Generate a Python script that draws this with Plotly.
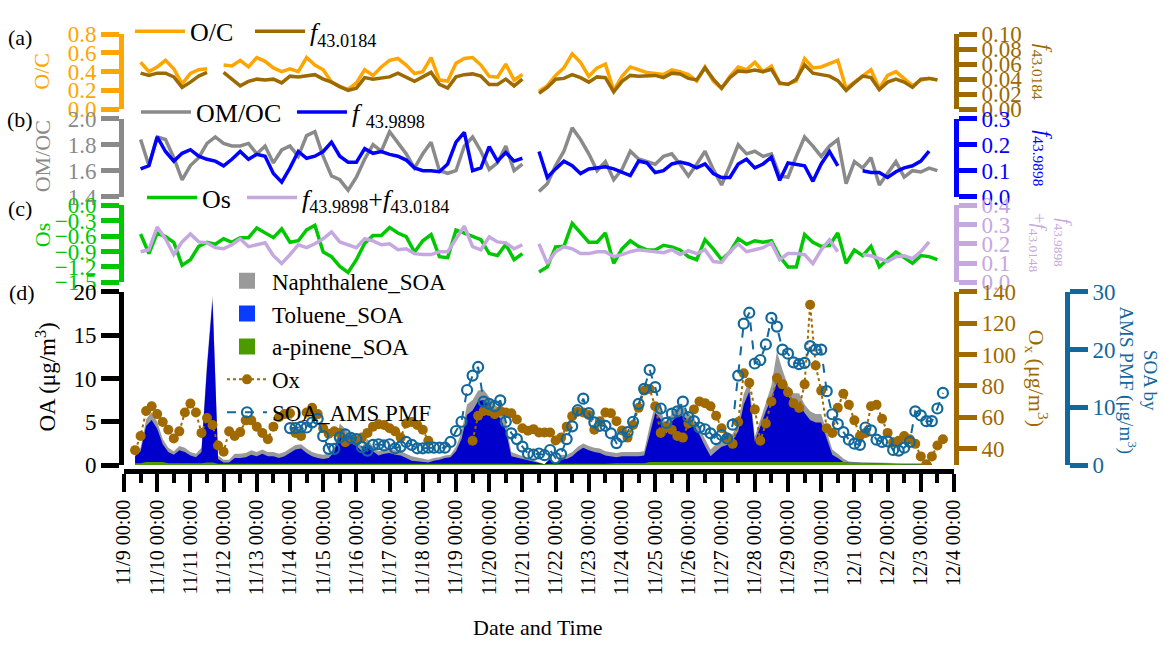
import numpy as np
import pandas as pd
import plotly.graph_objects as go

FONT = "Liberation Serif"

# ---------------- time bases ----------------
t6 = pd.date_range("2018-11-09", periods=101, freq="6h")   # panels a-c
t4 = pd.date_range("2018-11-09", periods=151, freq="4h")   # panel d

# ---------------- panel (a) ----------------
OC = [None, None, 0.50, 0.40, 0.45, 0.52, 0.43, 0.27, 0.38, 0.42,
      0.43, None, 0.47, 0.46, 0.52, 0.45, 0.55, 0.51, 0.44, 0.40,
      0.43, 0.40, 0.55, 0.47, 0.42, 0.29, 0.24, 0.21, 0.28, 0.42,
      0.36, 0.45, 0.52, 0.54, 0.47, 0.38, 0.40, 0.55, 0.31, 0.30,
      0.49, 0.54, 0.55, 0.47, 0.35, 0.34, 0.48, 0.31, 0.37, None,
      0.19, 0.25, 0.36, 0.44, 0.59, 0.50, 0.35, 0.44, 0.48, 0.20,
      0.35, 0.45, 0.42, 0.39, 0.38, 0.37, 0.42, 0.40, 0.37, 0.30,
      0.45, 0.30, 0.22, 0.35, 0.45, 0.42, 0.50, 0.40, 0.46, 0.27,
      0.27, 0.30, 0.54, 0.44, 0.45, 0.49, 0.52, 0.22, 0.29, 0.36,
      0.42, 0.22, 0.36, 0.40, 0.33, 0.25, 0.31, 0.33, 0.31, None,
      None]
F430184 = [None, None, 0.048, 0.045, 0.048, 0.048, 0.043, 0.029, 0.036, 0.044,
           0.049, None, 0.049, 0.040, 0.031, 0.037, 0.040, 0.039, 0.040, 0.035,
           0.044, 0.043, 0.045, 0.046, 0.040, 0.036, 0.030, 0.025, 0.028, 0.042,
           0.040, 0.041, 0.043, 0.048, 0.042, 0.037, 0.043, 0.049, 0.033, 0.028,
           0.043, 0.046, 0.047, 0.044, 0.033, 0.033, 0.040, 0.031, 0.040, None,
           0.021, 0.029, 0.040, 0.041, 0.046, 0.042, 0.036, 0.043, 0.042, 0.023,
           0.037, 0.045, 0.044, 0.044, 0.045, 0.042, 0.048, 0.047, 0.041, 0.039,
           0.055, 0.040, 0.028, 0.042, 0.051, 0.050, 0.052, 0.050, 0.053, 0.035,
           0.033, 0.040, 0.059, 0.048, 0.046, 0.044, 0.038, 0.025, 0.035, 0.044,
           0.042, 0.026, 0.036, 0.040, 0.036, 0.029, 0.040, 0.041, 0.039, None,
           None]

# ---------------- panel (b) ----------------
OMOC = [None, None, 1.84, 1.64, 1.86, 1.84, 1.70, 1.53, 1.64, 1.70,
        1.81, 1.86, 1.81, 1.79, 1.79, 1.81, 1.73, 1.79, 1.66, 1.76,
        1.79, 1.71, 1.87, 1.90, 1.71, 1.56, 1.53, 1.45, 1.55, 1.69,
        1.80, 1.75, 1.90, 1.82, 1.73, 1.62, 1.73, 1.82, 1.60, 1.58,
        1.60, 1.79, 1.86, 1.75, 1.61, 1.66, 1.79, 1.60, 1.65, None,
        1.44, 1.50, 1.64, 1.75, 1.93, 1.84, 1.73, 1.60, 1.67, 1.53,
        1.61, 1.75, 1.69, 1.67, 1.65, 1.71, 1.73, 1.65, 1.56, 1.65,
        1.75, 1.61, 1.49, 1.64, 1.80, 1.73, 1.75, 1.71, 1.73, 1.56,
        1.55, 1.71, 1.86, 1.79, 1.71, 1.79, 1.84, 1.50, 1.67, 1.62,
        1.70, 1.49, 1.58, 1.67, 1.55, 1.60, 1.59, 1.62, 1.60, None,
        None]
F439898 = [None, None, 0.107, 0.119, 0.23, 0.174, 0.137, 0.167, 0.181, 0.156,
           0.144, 0.137, 0.119, 0.144, 0.174, 0.144, 0.163, 0.156, 0.089, 0.056,
           0.111, 0.174, 0.148, 0.156, 0.174, 0.21, 0.156, 0.133, 0.133, 0.185,
           0.167, 0.174, 0.163, 0.156, 0.141, 0.111, 0.10, 0.10, 0.096, 0.126,
           0.21, 0.248, 0.10, 0.111, 0.193, 0.137, 0.17, 0.137, 0.148, None,
           0.174, 0.074, 0.107, 0.137, 0.119, 0.089, 0.107, 0.111, 0.115, 0.107,
           0.093, 0.081, 0.137, 0.13, 0.093, 0.10, 0.126, 0.133, 0.126, 0.111,
           0.126, 0.089, 0.074, 0.074, 0.126, 0.144, 0.111, 0.126, 0.152, 0.063,
           0.13, 0.126, 0.119, 0.059, 0.126, 0.174, 0.119, None, None, 0.10,
           0.093, 0.093, 0.074, 0.096, 0.111, 0.119, 0.137, 0.175, None, None,
           None]

# ---------------- panel (c) ----------------
OS = [None, None, -0.56, -0.94, -0.54, -0.61, -0.72, -1.17, -1.06, -0.80,
      -0.72, -0.76, -0.65, -0.72, -0.63, -0.63, -0.44, -0.54, -0.63, -0.46,
      -0.72, -0.69, -0.48, -0.39, -0.91, -1.00, -1.19, -1.31, -1.06, -0.74,
      -0.59, -0.59, -0.43, -0.54, -0.61, -0.91, -0.69, -0.57, -1.00, -1.02,
      -0.48, -0.54, -0.61, -0.67, -0.94, -0.98, -0.76, -1.06, -0.94, None,
      -1.30, -1.20, -0.81, -0.80, -0.35, -0.54, -0.72, -0.72, -0.54, -1.13,
      -0.85, -0.69, -0.80, -0.87, -0.87, -0.78, -0.81, -0.87, -1.00, -1.06,
      -0.67, -0.85, -1.06, -0.91, -0.65, -0.76, -0.69, -0.72, -0.69, -1.00,
      -1.20, -1.20, -0.57, -0.72, -0.80, -0.78, -0.54, -1.13, -0.87, -0.98,
      -0.80, -1.20, -1.06, -0.91, -1.02, -1.13, -0.98, -1.00, -1.06, None,
      None]
FSUM = [None, None, 0.159, 0.169, 0.287, 0.226, 0.144, 0.21, 0.251, 0.21,
        0.205, 0.18, 0.174, 0.195, 0.226, 0.185, 0.195, 0.205, 0.138, 0.097,
        0.144, 0.195, 0.18, 0.20, 0.226, 0.262, 0.21, 0.195, 0.18, 0.226,
        0.215, 0.195, 0.20, 0.169, 0.174, 0.149, 0.144, 0.144, 0.159, 0.159,
        0.226, 0.292, 0.185, 0.169, 0.236, 0.21, 0.205, 0.174, 0.195, None,
        0.20, 0.097, 0.159, 0.185, 0.174, 0.149, 0.149, 0.159, 0.159, 0.133,
        0.144, 0.159, 0.169, 0.164, 0.159, 0.154, 0.169, 0.144, 0.164, 0.149,
        0.169, 0.108, 0.103, 0.159, 0.20, 0.159, 0.169, 0.18, 0.205, 0.118,
        0.149, 0.149, 0.144, 0.097, 0.169, 0.221, 0.159, None, None, 0.144,
        0.138, 0.123, 0.108, 0.133, 0.138, 0.123, 0.159, 0.21, None, None,
        None]

# ---------------- panel (d) ----------------
N = None
TOL = [N, N, 0.8, 1.4, 4.15, 4.85, 3.85, 2.05, 1.3, 1.0,
       1.5, 1.3, 0.9, 0.7, 1.3, 10.9, 18.7, 0.55, 0.15, 0.15,
       0.65, 0.65, 0.75, 1.05, 0.85, 1.15, 0.85, 0.85, 0.65, 0.85,
       N, 1.65, 1.75, 1.25, 0.85, 0.65, 0.55, 0.65, 1.35, 3.85,
       3.25, 2.65, N, 1.45, 2.35, 1.45, 0.95, 1.15, 1.25, 1.05,
       0.95, 0.65, 0.35, N, N, 0.15, 0.35, 0.45, 0.65, 0.75,
       1.45, 2.85, 5.65, 6.15, 7.25, 7.35, N, 5.85, 5.25, 3.85,
       0.85, N, N, N, N, N, 0, 0.55, 0, 0.55,
       0.55, 0.85, 1.45, 1.85, 1.55, 1.35, 1.25, 0.95, N, 0.7,
       0.8, 0.8, 0.8, 0.8, 0.9, 3.15, 5.65, 4.95, 3.25, 4.65,
       5.35, 5.35, N, 4.25, 3.15, 1.85, 0.65, 1.25, 1.75, 1.95,
       2.45, 3.55, 6.65, 8.15, 2.35, N, 5.85, 7.35, 9.15, 9.15,
       7.65, 6.75, 6.75, 5.65, 4.85, 4.55, 4.55, N, 0.85, 0.45,
       0, 0, 0, N, N, N, N, N, N, N,
       N, 0, 0, 0, 0, 0, 0, N, N, N,
       N]
APIN = [N, N, 0.2, 0.2, 0.35, 0.35, 0.35, 0.35, 0.2, 0.2,
        0.2, 0.2, 0.2, 0.2, 0.2, 0.3, 0.3, 0.15, 0.15, 0.15,
        0.15, 0.15, 0.15, 0.15, 0.15, 0.15, 0.15, 0.15, 0.15, 0.15,
        N, 0.15, 0.15, 0.15, 0.15, 0.15, 0.15, 0.15, 0.15, 0.15,
        0.15, 0.15, N, 0.15, 0.15, 0.15, 0.15, 0.15, 0.15, 0.15,
        0.15, 0.15, 0.15, N, N, 0.15, 0.15, 0.15, 0.15, 0.15,
        0.15, 0.15, 0.15, 0.15, 0.15, 0.15, N, 0.15, 0.15, 0.15,
        0.15, N, N, N, N, N, 0.1, 0.15, 0.1, 0.15,
        0.15, 0.15, 0.15, 0.15, 0.15, 0.15, 0.15, 0.15, N, 0.2,
        0.2, 0.2, 0.2, 0.2, 0.2, 0.35, 0.35, 0.35, 0.35, 0.35,
        0.35, 0.35, N, 0.35, 0.35, 0.35, 0.35, 0.35, 0.35, 0.35,
        0.35, 0.35, 0.35, 0.35, 0.35, N, 0.35, 0.35, 0.35, 0.35,
        0.35, 0.35, 0.35, 0.35, 0.35, 0.35, 0.35, N, 0.35, 0.35,
        0.35, 0.25, 0.25, N, N, N, N, N, N, N,
        N, 0.1, 0.1, 0.1, 0.1, 0.1, 0.1, N, N, N,
        N]
NAPH = [N, N, 0.3, 0.4, 0.8, 0.9, 0.8, 0.6, 0.5, 0.4,
        0.5, 0.5, 0.4, 0.4, 0.5, 0.6, 0.6, 0.4, 0.3, 0.3,
        0.5, 0.5, 0.5, 0.5, 0.5, 0.5, 0.5, 0.5, 0.5, 0.5,
        N, 0.5, 0.5, 0.5, 0.5, 0.5, 0.5, 0.5, 0.5, 0.8,
        0.8, 0.6, N, 0.5, 0.5, 0.5, 0.5, 0.5, 0.5, 0.5,
        0.5, 0.5, 0.5, N, N, 0.3, 0.3, 0.3, 0.3, 0.3,
        0.5, 0.8, 1.2, 1.2, 1.2, 1.2, N, 1.0, 1.0, 1.0,
        0.5, N, N, N, N, N, 0, 0.2, 0, 0.5,
        0.5, 0.5, 0.5, 0.5, 0.5, 0.5, 0.5, 0.5, N, 0.5,
        0.5, 0.5, 0.5, 0.5, 0.5, 1.0, 1.0, 1.0, 1.0, 1.0,
        1.0, 1.0, N, 0.8, 0.8, 0.8, 0.8, 0.8, 0.8, 0.8,
        0.8, 1.0, 1.2, 1.2, 0.6, N, 1.0, 1.5, 3.6, 1.5,
        1.2, 1.2, 1.2, 1.0, 1.0, 1.0, 1.0, N, 0.6, 0.5,
        0.4, 0.15, 0.1, N, N, N, N, N, N, N,
        N, 0.1, 0.1, 0.1, 0.1, 0.1, 0.1, N, N, N,
        N]
OX = [N, N, 39, 48, 64, 67, 62, 57, 52, 46.5,
      51, 63, 68.7, 63, 50, 59.5, 55, 42, 38, 51,
      48, 50.5, 58, 58, 54, 50, 46, 54, 60, 62,
      62.6, 50, 48, 63, 66, 62, 53, 49.5, 51, 50,
      44, 46, 45, 47, 50, 54, 55.5, 55, 53, 51,
      47, 56, 57, 55, 52, 45, N, N, N, N,
      N, N, N, 45, 61, 64, 64, 62, 64, 63,
      62.6, 58.6, 53, 51.4, 52.4, 50.3, 50.3, 50.3, 45.2, 47,
      54, 60.7, 63.5, 63, 61.5, 52, 57.5, 63, 62.5, 57.5,
      51.5, 47, 55, 66, 77, 78, 67, 50, 54, 52,
      48, 47, 56, 65, 70, 69, 67, 61, 53, 47,
      43, 57, 88, 82, 65, 45, 56, 70, 85, 81,
      76, 69, 66, 81, 131.8, 93, 77, 53, 50, 66,
      75, 68, 58, 48, 50, 67, 68, 59, 50, 44,
      45, 48, 46, 43, 35, 30, 35, 42, 46, N,
      N]
SOA_AMS = [N] * 30 + [
      6.4, 6.4, 6.6, 6.5, 7.4, 8.0, 5.0, 2.8, 2.8, 4.8,
      5.3, 4.7, 4.5, 3.1, 2.5, 3.5, 3.6, 3.4, 3.6, 2.9,
      3.2, 4.0, 3.5, 2.9, 2.9, 3.0, 3.0, 3.0, 3.0, 4.0,
      5.9, 7.5, 13.0, 15.5, 17.0, 11.0, 10.6, 10.2, 11.2, 7.5,
      5.5, 4.5, 3.2, 2.0, 1.8, 2.0, 1.7, 2.6, 1.2, 1.9,
      4.5, 6.7, 9.5, 11.5, 9.0, 7.4, 6.8, 6.8, 5.5, 3.8,
      4.9, 5.7, 7.5, 10.6, 13.2, 16.5, 13.5, 9.8, 7.3, 8.9,
      9.3, 11.0, 8.3, 7.6, 6.5, 6.2, 5.5, 4.5, 5.2, 4.6,
      7.0, 15.5, 24.5, 26.4, 17.6, 18.2, 20.9, 25.5, 24.0, 20.0,
      19.3, 17.8, 17.5, 17.7, 20.6, 20.0, 20.0, 12.8, 8.8, 7.1,
      5.7, 4.4, 3.7, 3.5, 6.5, 6.0, 4.4, 4.0, 4.1, 2.6,
      2.5, 3.0, 4.0, 9.3, 8.6, 7.6, 7.6, 9.8, 12.5, N,
      N]


def arr(v):
    return np.array([np.nan if x is None else x for x in v], dtype=float)


apin = arr(APIN)
blue_top = apin + arr(TOL)
total = blue_top + arr(NAPH)

# ---------------- colours ----------------
C_OC = "#FFA500"
C_F43 = "#9C6A00"
C_OMOC = "#8A8A8A"
C_F44 = "#0000FF"
C_OS = "#00C800"
C_FSUM = "#C6A8E0"
C_NAPH = "#9A9A9A"
C_TOL = "#0000CC"
C_TOL_LEG = "#0A3CFF"
C_APIN = "#4C9A00"
C_OX = "#A06A00"
C_SOA = "#12689C"

W, H = 1164, 655
ML, MR = 124, 70
PW = W - ML - MR


def px(xp):
    return (xp - ML) / PW


def py(yp):
    return 1 - yp / H


fig = go.Figure()
LW = 3.5

fig.add_trace(go.Scatter(x=t6, y=OC, mode="lines", line=dict(color=C_OC, width=LW),
                         name="O/C", yaxis="y", legend="legend"))
fig.add_trace(go.Scatter(x=t6, y=F430184, mode="lines", line=dict(color=C_F43, width=LW),
                         name="<i>f</i><sub>43.0184</sub>", yaxis="y2", legend="legend5"))
fig.add_trace(go.Scatter(x=t6, y=OMOC, mode="lines", line=dict(color=C_OMOC, width=LW),
                         name="OM/OC", yaxis="y3", legend="legend2"))
fig.add_trace(go.Scatter(x=t6, y=F439898, mode="lines", line=dict(color=C_F44, width=LW),
                         name="<i>f</i> <sub>43.9898</sub>", yaxis="y4", legend="legend6"))
fig.add_trace(go.Scatter(x=t6, y=OS, mode="lines", line=dict(color=C_OS, width=LW),
                         name="Os", yaxis="y5", legend="legend3"))
fig.add_trace(go.Scatter(x=t6, y=FSUM, mode="lines", line=dict(color=C_FSUM, width=LW),
                         name="<i>f</i><sub>43.9898</sub>+<i>f</i><sub>43.0184</sub>",
                         yaxis="y6", legend="legend7"))

# stacked areas (drawn as cumulative totals)
fig.add_trace(go.Scatter(x=t4, y=total, mode="none", fill="tozeroy", fillcolor=C_NAPH,
                         name="Naphthalene_SOA", yaxis="y7", showlegend=False))
fig.add_trace(go.Scatter(x=t4, y=blue_top, mode="none", fill="tozeroy", fillcolor=C_TOL,
                         name="Toluene_SOA", yaxis="y7", showlegend=False))
fig.add_trace(go.Scatter(x=t4, y=apin, mode="none", fill="tozeroy", fillcolor=C_APIN,
                         name="a-pinene_SOA", yaxis="y7", showlegend=False))
# square legend keys for the areas
for nm, col in [("Naphthalene_SOA", C_NAPH), ("Toluene_SOA", C_TOL_LEG),
                ("a-pinene_SOA", C_APIN)]:
    fig.add_trace(go.Scatter(x=[None], y=[None], mode="markers",
                             marker=dict(symbol="square", size=22, color=col),
                             name=nm, yaxis="y7", legend="legend4"))

fig.add_trace(go.Scatter(x=t4, y=OX, mode="lines+markers",
                         line=dict(color=C_OX, width=2, dash="dot"),
                         marker=dict(color=C_OX, size=10),
                         name="Ox", yaxis="y8", legend="legend4"))
fig.add_trace(go.Scatter(x=t4, y=SOA_AMS, mode="lines+markers",
                         line=dict(color=C_SOA, width=2, dash="dash"),
                         marker=dict(color=C_SOA, size=10, symbol="circle-open",
                                     line=dict(width=2.2, color=C_SOA)),
                         name="SOA_AMS PMF", yaxis="y9", legend="legend4"))

TF = 23


def yax(color, domain=None, rng=None, dtick=None, fmt=None, side="left",
        overlaying=None, anchor="x", position=None, tick0=None):
    d = dict(color=color, range=rng, dtick=dtick, tickformat=fmt, side=side,
             showline=True, linewidth=5, linecolor=color, ticks="outside",
             ticklen=18, tickwidth=5, tickcolor=color, showgrid=False,
             zeroline=False, tickfont=dict(family=FONT, size=TF, color=color),
             anchor=anchor, fixedrange=True)
    if domain is not None:
        d["domain"] = domain
    if overlaying is not None:
        d["overlaying"] = overlaying
    if position is not None:
        d["position"] = position
    if tick0 is not None:
        d["tick0"] = tick0
    return d


dom_a = [py(101), py(23)]
dom_b = [py(192), py(111)]
dom_c = [py(281), py(201)]
dom_d = [py(471), py(291)]
eps = 1e-4

legend_common = dict(bgcolor="rgba(0,0,0,0)", borderwidth=0, itemclick=False,
                     itemdoubleclick=False)


def hleg(xpix, ypix):
    return dict(orientation="h", x=px(xpix), y=py(ypix), xanchor="left", yanchor="middle",
                font=dict(family=FONT, size=26, color="black"), itemwidth=50,
                **legend_common)


fig.update_layout(
    width=W, height=H,
    margin=dict(l=ML, r=MR, t=0, b=0),
    paper_bgcolor="white", plot_bgcolor="white",
    font=dict(family=FONT, color="black"),
    xaxis=dict(domain=[0, 830 / PW], anchor="free", position=py(477),
               range=["2018-11-09 00:00", "2018-12-04 00:00"],
               type="date", dtick=86400000, tick0="2018-11-09",
               tickformat="%-m/%-d %H:%M", tickangle=-90,
               showline=True, linewidth=5, linecolor="black",
               ticks="outside", ticklen=18, tickwidth=4, tickcolor="black",
               minor=dict(dtick=43200000, tick0="2018-11-09 12:00", ticks="outside",
                          ticklen=9, tickwidth=4, tickcolor="black", showgrid=False),
               showgrid=False, zeroline=False,
               tickfont=dict(family=FONT, size=20, color="black")),
    yaxis=yax(C_OC, dom_a, [0, 0.8 + eps], 0.2, ".1f"),
    yaxis2=yax(C_F43, None, [0, 0.1 + 1e-5], 0.02, ".2f", side="right", overlaying="y"),
    yaxis3=yax(C_OMOC, dom_b, [1.4 - eps, 2.0 + eps], 0.2, ".1f"),
    yaxis4=yax(C_F44, None, [0, 0.3 + eps], 0.1, ".1f", side="right", overlaying="y3"),
    yaxis5=yax(C_OS, dom_c, [-1.5 - eps, 0 + eps], 0.3, ".1f"),
    yaxis6=yax(C_FSUM, None, [0, 0.4 + eps], 0.1, ".1f", side="right", overlaying="y5"),
    yaxis7=yax("black", dom_d, [0, 20 + 1e-3], 5, "d"),
    yaxis8=yax(C_OX, None, [29.5, 140.01], 20, "d", side="right", overlaying="y7", tick0=40),
    yaxis9=yax(C_SOA, None, [0, 30.01], 10, "d", side="right", overlaying="y7",
               anchor="free", position=px(1067)),
    legend=hleg(130, 20),
    legend5=hleg(250, 20),
    legend2=hleg(136, 104),
    legend6=hleg(292, 104),
    legend3=hleg(142, 193),
    legend7=hleg(242, 193),
    legend4=dict(orientation="v", x=px(222), y=py(257), xanchor="left", yanchor="top",
                 font=dict(family=FONT, size=23, color="black"), tracegroupgap=0,
                 itemwidth=40, **legend_common),
    showlegend=True,
)


def ann(text, x, y, size=22, color="black", angle=0, xa="center", ya="middle"):
    fig.add_annotation(text=text, x=px(x), y=py(y), xref="paper", yref="paper",
                       showarrow=False, textangle=angle, xanchor=xa, yanchor=ya,
                       font=dict(family=FONT, size=size, color=color))


ann("(a)", 20, 27)
ann("(b)", 20, 112)
ann("(c)", 20, 204)
ann("(d)", 22, 292)
ann("O/C", 42, 62, color=C_OC, angle=-90)
ann("OM/OC", 42, 150, color=C_OMOC, angle=-90)
ann("Os", 42, 232, color=C_OS, angle=-90)
ann("OA (μg/m<sup>3</sup>)", 46, 380, size=23, angle=-90)
ann("<i>f</i><sub>43.0184</sub>", 1043, 62, color=C_F43, angle=90)
ann("<i>f</i><sub>43.9898</sub>", 1043, 152, color=C_F44, angle=90)
ann("<i>f</i><sub>43.9898</sub><br>+<i>f</i><sub>43.0148</sub>", 1050, 240,
    color=C_FSUM, angle=90, size=19)
ann("O<sub>x</sub> (μg/m<sup>3</sup>)", 1037, 380, color=C_OX, angle=90)
ann("SOA by<br>AMS PMF (μg/m<sup>3</sup>)", 1138, 383, color=C_SOA, angle=90, size=19)
ann("Date and Time", 538, 640, size=22)

fig.write_html("out.html")
